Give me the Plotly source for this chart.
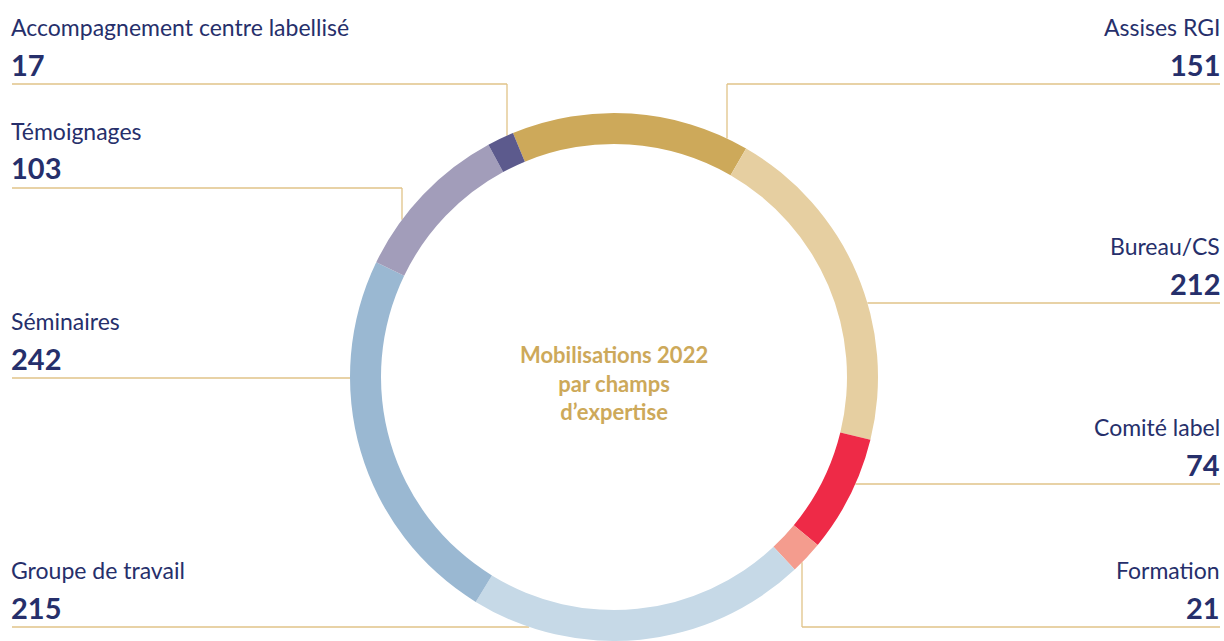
import math
import plotly.graph_objects as go

# ---- data ----
categories = ["Assises RGI", "Bureau/CS", "Comité label", "Formation",
              "Groupe de travail", "Séminaires", "Témoignages",
              "Accompagnement centre labellisé"]
values = [151, 212, 74, 21, 215, 242, 103, 17]
colors = ["#CDA95A", "#E6CFA1", "#EE2A47", "#F49C8E",
          "#C6D9E7", "#9AB8D2", "#A29DBA", "#5C5A8D"]
center_title = "Mobilisations 2022<br>par champs<br>d’expertise"

W, H = 1224, 641
CX, CY, R = 614, 377, 264
THICK = 31
NAVY = "#262F6B"
GOLD = "#CDA95A"
LINE = "#E0C388"


def px(x):
    return x / W


def py(y):
    return 1 - y / H


fig = go.Figure()
fig.add_trace(go.Pie(
    labels=categories, values=values, sort=False, direction="clockwise",
    rotation=-22.5, hole=(R - THICK) / R,
    marker=dict(colors=colors, line=dict(width=0)),
    textinfo="none", hoverinfo="label+value", showlegend=False,
    domain=dict(x=[px(CX - R), px(CX + R)], y=[py(CY + R), py(CY - R)]),
))


def ring_y(x, sign):
    return CY + sign * math.sqrt(max(R * R - (x - CX) ** 2, 0))


def ring_x(y, sign):
    return CX + sign * math.sqrt(max(R * R - (y - CY) ** 2, 0))


shapes = []


def seg(x0, y0, x1, y1):
    shapes.append(dict(type="line", xref="paper", yref="paper",
                       x0=px(x0), y0=py(y0), x1=px(x1), y1=py(y1),
                       line=dict(color=LINE, width=1.3), layer="below"))


# label layout: (category index, side, line y, elbow x or None)
layout_spec = [
    (7, "left", 84, 507),
    (6, "left", 188, 402),
    (5, "left", 378, None),
    (4, "left", 627, None),
    (0, "right", 84, 727),
    (1, "right", 303, None),
    (2, "right", 484, None),
    (3, "right", 627, 802),
]

annotations = []
for idx, side, ly, ex in layout_spec:
    if side == "left":
        if ex is not None:
            seg(12, ly, ex, ly)
            sgn = -1 if ly < CY else 1
            seg(ex, ly, ex, ring_y(ex, sgn))
        else:
            seg(12, ly, ring_x(ly, -1), ly)
        tx, anchor = px(9), "left"
    else:
        if ex is not None:
            seg(ex, ly, 1220, ly)
            sgn = -1 if ly < CY else 1
            seg(ex, ly, ex, ring_y(ex, sgn))
        else:
            seg(ring_x(ly, 1), ly, 1220, ly)
        tx, anchor = px(1222), "right"
    annotations.append(dict(
        x=tx, y=py(ly - 57), xref="paper", yref="paper", xanchor=anchor,
        yanchor="middle", showarrow=False, text=categories[idx],
        font=dict(family="Lato", size=23, color=NAVY)))
    annotations.append(dict(
        x=tx, y=py(ly - 20), xref="paper", yref="paper", xanchor=anchor,
        yanchor="middle", showarrow=False, text=f"<b>{values[idx]}</b>",
        font=dict(family="Lato", size=29, color=NAVY, weight=900)))

annotations.append(dict(
    x=px(CX), y=py(CY + 6), xref="paper", yref="paper", showarrow=False,
    text=f"<b>{center_title}</b>", align="center",
    font=dict(family="Lato", size=22, color=GOLD)))

fig.update_layout(
    width=W, height=H, margin=dict(l=0, r=0, t=0, b=0),
    paper_bgcolor="white", plot_bgcolor="white",
    shapes=shapes, annotations=annotations,
)

fig.write_html("out.html",
               config={"displayModeBar": False},
               post_script="document.body.style.margin='0';"
                           "document.body.style.overflow='hidden';")
